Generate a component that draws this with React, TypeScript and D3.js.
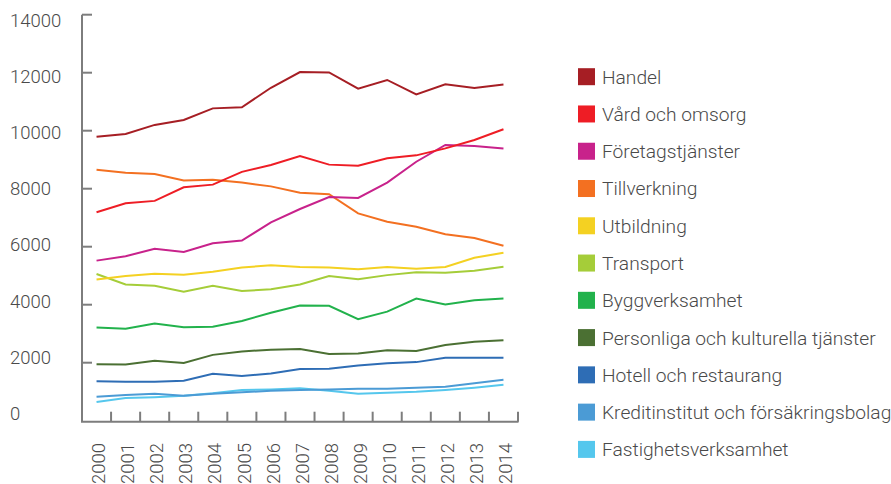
import React from "react";
import * as d3 from "d3";

const years = ["2000", "2001", "2002", "2003", "2004", "2005", "2006", "2007", "2008", "2009", "2010", "2011", "2012", "2013", "2014"];
const yTicks = [0, 2000, 4000, 6000, 8000, 10000, 12000, 14000];

const handel = [9790, 9890, 10200, 10370, 10770, 10810, 11480, 12020, 12010, 11450, 11750, 11250, 11600, 11470, 11590];
const vard = [7190, 7500, 7580, 8050, 8140, 8580, 8820, 9130, 8830, 8790, 9050, 9150, 9390, 9680, 10050];
const foretag = [5520, 5670, 5930, 5820, 6120, 6210, 6840, 7300, 7710, 7680, 8210, 8930, 9510, 9470, 9390];
const tillverkning = [8650, 8550, 8510, 8280, 8310, 8210, 8080, 7860, 7810, 7150, 6860, 6690, 6430, 6300, 6030];
const utbildning = [4870, 4990, 5070, 5030, 5140, 5280, 5360, 5300, 5280, 5220, 5300, 5240, 5300, 5620, 5790];
const transport = [5060, 4700, 4650, 4450, 4650, 4470, 4530, 4700, 4990, 4880, 5020, 5120, 5100, 5170, 5310];
const bygg = [3210, 3170, 3350, 3220, 3240, 3440, 3720, 3970, 3960, 3500, 3760, 4210, 4010, 4150, 4210];
const personliga = [1945, 1940, 2070, 1990, 2270, 2390, 2450, 2470, 2300, 2320, 2430, 2400, 2610, 2720, 2770];
const hotell = [1360, 1345, 1345, 1380, 1620, 1540, 1630, 1780, 1790, 1900, 1980, 2020, 2170, 2170, 2170];
const kredit = [830, 890, 930, 860, 930, 980, 1030, 1060, 1080, 1100, 1100, 1140, 1170, 1290, 1410];
const fastighet = [645, 780, 810, 860, 945, 1060, 1080, 1120, 1030, 930, 965, 1000, 1060, 1140, 1240];

const seriesNames = [
  "Handel",
  "Vård och omsorg",
  "Företagstjänster",
  "Tillverkning",
  "Utbildning",
  "Transport",
  "Byggverksamhet",
  "Personliga och kulturella tjänster",
  "Hotell och restaurang",
  "Kreditinstitut och försäkringsbolag",
  "Fastighetsverksamhet",
];
const seriesValues = [handel, vard, foretag, tillverkning, utbildning, transport, bygg, personliga, hotell, kredit, fastighet];
const seriesColors = ["#a61e24", "#ee1d25", "#c8228b", "#f37021", "#f4d122", "#a5cd39", "#22b24c", "#4b7033", "#2e6db5", "#4b9bd5", "#55c7ed"];

const W = 891;
const H = 484;
const axisColor = "#7d7d7d";
const textColor = "#4a4a4a";
const font = "Roboto, 'Noto Sans', sans-serif";

export default function App() {
  const x = d3.scaleBand<string>().domain(years).range([82, 518]).padding(0);
  const y = d3.scaleLinear().domain([0, 14000]).range([420.7, 14.7]);
  // labels sit on their own spacing in the original
  const yLabel = d3.scaleLinear().domain([0, 14000]).range([413, 20.5]);
  const legendY = d3.scalePoint<string>().domain(seriesNames).range([76.7, 449.4]);

  const line = d3
    .line<number>()
    .x((_, i) => (x(years[i]) as number) + x.bandwidth() / 2)
    .y((d) => y(d));

  const axisY = 421.7;

  return (
    <svg width={W} height={H} style={{ position: "absolute", left: 0, top: 0, fontFamily: font }}>
      {/* y axis */}
      <line x1={82} x2={82} y1={y(14000)} y2={axisY} stroke={axisColor} strokeWidth={2} />
      {yTicks.map((t) => (
        <g key={t}>
          {t > 0 && <line x1={82} x2={92} y1={y(t)} y2={y(t)} stroke={axisColor} strokeWidth={2} />}
          <text x={10} y={yLabel(t)} dy="0.36em" fontSize={18.5} fontWeight={300} fill={textColor}>
            {t}
          </text>
        </g>
      ))}

      {/* x axis */}
      <line x1={81} x2={518.5} y1={axisY} y2={axisY} stroke={axisColor} strokeWidth={2} />
      {years.map((yr) => {
        const right = (x(yr) as number) + x.bandwidth();
        const cx = (x(yr) as number) + x.bandwidth() / 2 + 2;
        return (
          <g key={yr}>
            <line x1={right} x2={right} y1={axisY} y2={axisY - 10} stroke={axisColor} strokeWidth={2} />
            <text
              transform={`translate(${cx},443) rotate(-90)`}
              textAnchor="end"
              dy="0.36em"
              fontSize={18.5}
              fontWeight={300}
              fill={textColor}
            >
              {yr}
            </text>
          </g>
        );
      })}

      {/* lines */}
      {seriesValues
        .map((vals, i) => ({ vals, i }))
        .reverse()
        .map(({ vals, i }) => (
          <path key={seriesNames[i]} d={line(vals) || ""} fill="none" stroke={seriesColors[i]} strokeWidth={2} />
        ))}

      {/* legend */}
      {seriesNames.map((name, i) => {
        const ly = legendY(name) as number;
        return (
          <g key={name}>
            <rect x={578} y={ly - 8.5} width={17} height={17} fill={seriesColors[i]} />
            <text x={602} y={ly} dy="0.36em" fontSize={19.2} fontWeight={300} fill={textColor}>
              {name}
            </text>
          </g>
        );
      })}
    </svg>
  );
}
